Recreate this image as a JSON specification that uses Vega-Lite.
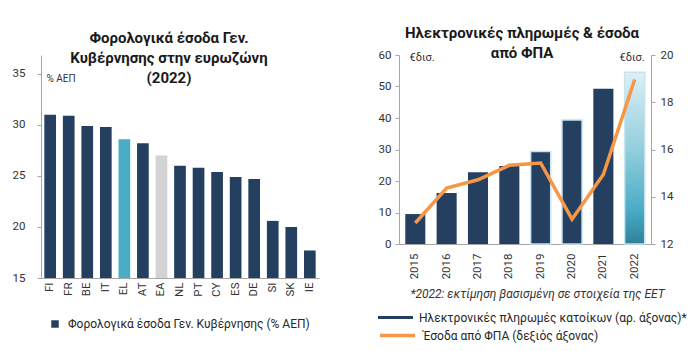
{
  "$schema": "https://vega.github.io/schema/vega-lite/v6.json",
  "background": "white",
  "padding": {"left": 12, "top": 26, "right": 10, "bottom": 5},
  "bounds": "flush",
  "spacing": 80,
  "config": {
    "font": "Roboto",
    "view": {"stroke": null},
    "axis": {"labelFont": "Roboto", "labelFontSize": 11.5, "labelColor": "#333333", "domainColor": "#A6A6A6", "tickColor": "#A6A6A6", "grid": false, "titleFont": "Roboto", "titleColor": "#333333", "titleFontWeight": "normal"},
    "legend": {"labelFont": "Roboto", "labelFontSize": 12, "labelColor": "#262626", "labelLimit": 400},
    "title": {"font": "Roboto", "fontSize": 15, "fontWeight": "bold", "color": "#1a1a1a", "lineHeight": 20}
  },
  "resolve": {"scale": {"fill": "independent", "stroke": "independent"}, "legend": {"fill": "independent", "stroke": "independent"}},
  "hconcat": [
    {
      "width": 278,
      "height": 223,
      "title": {"text": ["Φορολογικά έσοδα Γεν.", "Κυβέρνησης στην ευρωζώνη", "(2022)"], "anchor": "middle", "frame": "group", "offset": -31, "dx": -11},
      "data": {"values": [
        {"country": "FI", "value": 31.0},
        {"country": "FR", "value": 30.9},
        {"country": "BE", "value": 29.9},
        {"country": "IT", "value": 29.8},
        {"country": "EL", "value": 28.6},
        {"country": "AT", "value": 28.2},
        {"country": "EA", "value": 27.0},
        {"country": "NL", "value": 26.0},
        {"country": "PT", "value": 25.8},
        {"country": "CY", "value": 25.4},
        {"country": "ES", "value": 24.9},
        {"country": "DE", "value": 24.7},
        {"country": "SI", "value": 20.6},
        {"country": "SK", "value": 20.0},
        {"country": "IE", "value": 17.7}
      ]},
      "mark": {"type": "bar"},
      "encoding": {
        "x": {"field": "country", "type": "nominal", "sort": null, "scale": {"paddingInner": 0.37, "paddingOuter": 0.18},
              "axis": {"title": null, "labelAngle": -90, "ticks": false, "labelPadding": 4}},
        "y": {"field": "value", "type": "quantitative", "scale": {"domain": [15, 36.86], "nice": false, "zero": false},
              "axis": {"values": [15, 20, 25, 30, 35], "title": "% ΑΕΠ", "titleAngle": 0, "titleX": 5, "titleY": 23, "titleAlign": "left", "titleBaseline": "middle", "titleFontSize": 10, "labelPadding": 12, "tickSize": 4}},
        "y2": {"datum": 15},
        "fill": {"datum": "Φορολογικά έσοδα Γεν. Κυβέρνησης (% ΑΕΠ)", "type": "nominal",
                 "scale": {"range": ["#243F60"]},
                 "legend": {"title": null, "orient": "none", "legendX": 8, "legendY": 263, "symbolType": "square", "symbolSize": 56, "labelOffset": 7},
                 "condition": [
                   {"test": "datum.country == 'EL'", "value": "#4BACC6"},
                   {"test": "datum.country == 'EA'", "value": "#D3D3D3"}
                 ]}
      }
    },
    {
      "width": 252,
      "height": 189,
      "title": {"text": ["Ηλεκτρονικές πληρωμές & έσοδα", "από ΦΠΑ"], "anchor": "middle", "frame": "group", "offset": -12, "dx": -3},
      "data": {"values": [
        {"year": "2015", "payments": 9.5, "vat": 12.89},
        {"year": "2016", "payments": 16.2, "vat": 14.37},
        {"year": "2017", "payments": 22.8, "vat": 14.72},
        {"year": "2018", "payments": 24.8, "vat": 15.33},
        {"year": "2019", "payments": 29.4, "vat": 15.43},
        {"year": "2020", "payments": 39.4, "vat": 13.05},
        {"year": "2021", "payments": 49.3, "vat": 14.94},
        {"year": "2022", "payments": 54.5, "vat": 18.96}
      ]},
      "encoding": {
        "x": {"field": "year", "type": "nominal", "sort": null, "scale": {"paddingInner": 0.36, "paddingOuter": 0.2},
              "axis": {"title": "*2022: εκτίμηση βασισμένη σε στοιχεία της ΕΕΤ", "titleFontStyle": "italic", "titleFontSize": 12, "titlePadding": 10, "titleX": 138, "labelAngle": -90, "ticks": false, "labelPadding": 9}}
      },
      "layer": [
        {
          "mark": {"type": "bar", "strokeWidth": 1.5},
          "encoding": {
            "y": {"field": "payments", "type": "quantitative", "scale": {"domain": [0, 60], "nice": false},
                  "axis": {"values": [0, 10, 20, 30, 40, 50, 60], "title": "€δισ.", "titleAngle": 0, "titleX": 10, "titleY": 2, "titleAlign": "left", "titleBaseline": "middle", "titleFontSize": 11, "labelPadding": 4, "tickSize": 4}},
            "fill": {"datum": "Ηλεκτρονικές πληρωμές κατοίκων (αρ. άξονας)*", "type": "nominal",
                     "scale": {"range": ["#243F60"]},
                     "legend": {"title": null, "orient": "none", "legendX": -21, "legendY": 245, "symbolType": "M-1,-0.09H1V0.09H-1Z", "symbolSize": 1225, "symbolStrokeWidth": 0, "labelOffset": 6},
                     "condition": {"test": "datum.year == '2022'", "value": {"gradient": "linear", "x1": 0, "y1": 0, "x2": 0, "y2": 1, "stops": [
                       {"offset": 0, "color": "#DCEFF5"},
                       {"offset": 0.45, "color": "#93CEDD"},
                       {"offset": 0.8, "color": "#4BACC6"},
                       {"offset": 1, "color": "#2E8199"}
                     ]}}},
            "stroke": {"condition": {"test": "datum.year >= '2019' && datum.year != '2021'", "value": "#C5E4EE"}, "value": null}
          }
        },
        {
          "mark": {"type": "line", "strokeWidth": 3.5},
          "encoding": {
            "y": {"field": "vat", "type": "quantitative", "scale": {"domain": [12, 20], "nice": false, "zero": false},
                  "axis": {"orient": "right", "values": [12, 14, 16, 18, 20], "title": "€δισ.", "titleAngle": 0, "titleX": -32, "titleY": 2, "titleAlign": "left", "titleBaseline": "middle", "titleFontSize": 11, "labelPadding": 5, "tickSize": 4}},
            "stroke": {"datum": "Έσοδα από ΦΠΑ (δεξιός άξονας)", "type": "nominal",
                       "scale": {"range": ["#F79646"]},
                       "legend": {"title": null, "orient": "none", "legendX": -21, "legendY": 261, "symbolType": "stroke", "symbolSize": 1225, "symbolStrokeWidth": 3.5, "labelOffset": 6}}
          }
        }
      ],
      "resolve": {"scale": {"y": "independent"}}
    }
  ]
}
